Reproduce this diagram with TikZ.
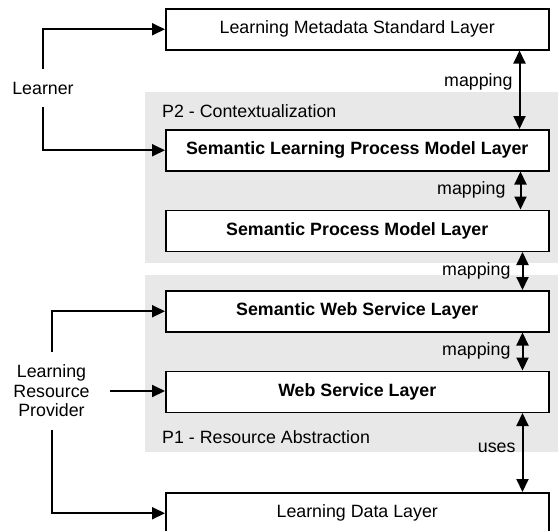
\documentclass[tikz,border=0pt]{standalone}
\usepackage{fontspec}
\setmainfont{Liberation Sans}
\usetikzlibrary{arrows.meta}
\definecolor{panelgray}{RGB}{232,232,232}
\begin{document}
\begin{tikzpicture}[x=1pt,y=-1pt,
  every node/.style={font=\fontsize{17.8}{20}\selectfont},
  layer/.style={draw=black, line width=1.5pt, fill=white, minimum width=383pt, minimum height=41pt, anchor=north west, inner sep=0pt},
  boldlayer/.style={layer, font=\fontsize{17.8}{20}\selectfont\bfseries},
  conn/.style={line width=2pt, -{Triangle[length=13pt,width=12pt]}},
  dconn/.style={line width=2pt, {Triangle[length=13pt,width=12pt]}-{Triangle[length=13pt,width=12pt]}},
  lab/.style={inner sep=0pt, anchor=east},
  plabel/.style={inner sep=0pt, anchor=west}]
\useasboundingbox (0,0) rectangle (558,531);
% panels
\fill[panelgray] (145,92) rectangle (558,263);
\fill[panelgray] (145,275) rectangle (558,452);
\node[plabel] (p2) at (162,111) {P2 - Contextualization};
\node[plabel] (p1) at (162,437) {P1 - Resource Abstraction};
% layers
\node[layer] (box1) at (165,8) {Learning Metadata Standard Layer};
\node[boldlayer] (box2) at (165,129) {Semantic Learning Process Model Layer};
\node[boldlayer] (box3) at (165,209.5) {Semantic Process Model Layer};
\node[boldlayer] (box4) at (165,290) {Semantic Web Service Layer};
\node[boldlayer] (box5) at (165,370.5) {Web Service Layer};
\node[layer] (box6) at (165,492) {Learning Data Layer};
% actors
\node[minimum height=38pt, inner sep=0pt] (learner) at (43,88) {Learner};
\node[align=center, minimum height=78pt, minimum width=117pt, inner sep=0pt,
      font=\fontsize{17.8}{19.5}\selectfont] (lrp) at (51.5,391) {Learning\\Resource\\Provider};
\draw[conn] (learner.north) |- (box1.west);
\draw[conn] (learner.south) |- (box2.west);
\draw[conn] (lrp.north) |- (box4.west);
\draw[conn] (lrp.east) -- (lrp.east -| box5.west);
\draw[conn] (lrp.south) |- (box6.west);
% mappings
\draw[dconn] ([xshift=-30pt]box1.south east) -- ([xshift=-30pt]box2.north east)
  node[lab, pos=0.4, xshift=-6pt] {mapping};
\draw[dconn] ([xshift=-29pt]box2.south east) -- ([xshift=-29pt]box3.north east)
  node[lab, pos=0.475, xshift=-14pt] {mapping};
\draw[dconn] ([xshift=-27pt]box3.south east) -- ([xshift=-27pt]box4.north east)
  node[lab, pos=0.49, xshift=-11pt] {mapping};
\draw[dconn] ([xshift=-27pt]box4.south east) -- ([xshift=-27pt]box5.north east)
  node[lab, pos=0.475, xshift=-11pt] {mapping};
\draw[dconn] ([xshift=-27pt]box5.south east) -- ([xshift=-27pt]box6.north east)
  node[lab, pos=0.44, xshift=-6pt] {uses};
\end{tikzpicture}
\end{document}
